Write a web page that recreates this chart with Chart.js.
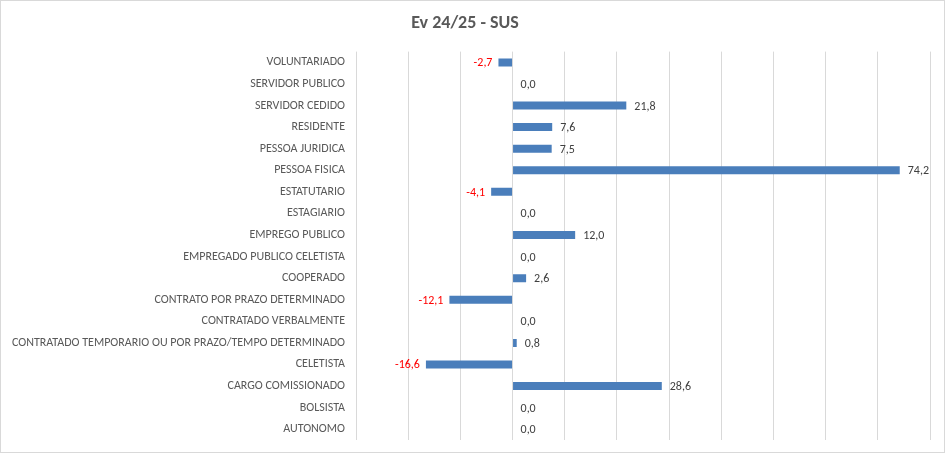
<!DOCTYPE html>
<html>
<head>
<meta charset="utf-8">
<script src="https://cdn.jsdelivr.net/npm/chart.js@4"></script>
<style>
  html, body { margin: 0; padding: 0; background: #fff; }
  #wrap { position: relative; width: 946px; height: 455px; }
</style>
</head>
<body>
<div id="wrap"><canvas id="myChart"></canvas></div>
<script>
const categories = [
  'VOLUNTARIADO', 'SERVIDOR PUBLICO', 'SERVIDOR CEDIDO', 'RESIDENTE',
  'PESSOA JURIDICA', 'PESSOA FISICA', 'ESTATUTARIO', 'ESTAGIARIO',
  'EMPREGO PUBLICO', 'EMPREGADO PUBLICO CELETISTA', 'COOPERADO',
  'CONTRATO POR PRAZO DETERMINADO', 'CONTRATADO VERBALMENTE',
  'CONTRATADO TEMPORARIO OU POR PRAZO/TEMPO DETERMINADO', 'CELETISTA',
  'CARGO COMISSIONADO', 'BOLSISTA', 'AUTONOMO'
];
const values = [
  -2.7, 0.0, 21.8, 7.6,
  7.5, 74.2, -4.1, 0.0,
  12.0, 0.0, 2.6,
  -12.1, 0.0,
  0.8, -16.6,
  28.6, 0.0, 0.0
];
const xMin = -30;
const xMax = 80;
const xStep = 10;

const fontFamily = 'Carlito, Calibri, "Liberation Sans Narrow", "DejaVu Sans Condensed", "Open Sans", sans-serif';

// value labels next to each bar, red for negatives
const barLabels = {
  id: 'barLabels',
  afterDatasetsDraw(chart) {
    const ctx = chart.ctx;
    const meta = chart.getDatasetMeta(0);
    const zeroX = chart.scales.x.getPixelForValue(0);
    ctx.save();
    ctx.font = '12px ' + fontFamily;
    ctx.textBaseline = 'middle';
    meta.data.forEach((bar, i) => {
      const v = values[i];
      const txt = v.toFixed(1).replace('.', ',');
      if (v < 0) {
        ctx.fillStyle = '#ff0000';
        ctx.textAlign = 'right';
        ctx.fillText(txt, bar.x - 6, bar.y + 1);
      } else {
        ctx.fillStyle = '#404040';
        ctx.textAlign = 'left';
        ctx.fillText(txt, Math.max(bar.x, zeroX) + 8, bar.y + 1);
      }
    });
    ctx.restore();
  }
};

const frame = {
  id: 'frame',
  afterDraw(chart) {
    const ctx = chart.ctx;
    ctx.save();
    ctx.strokeStyle = '#d9d9d9';
    ctx.lineWidth = 1;
    ctx.strokeRect(0.5, 0.5, chart.width - 2, chart.height - 3);
    ctx.restore();
  }
};

new Chart(document.getElementById('myChart'), {
  type: 'bar',
  data: {
    labels: categories,
    datasets: [{
      data: values,
      backgroundColor: '#4a7ebb',
      borderWidth: 0,
      inflateAmount: 0,
      barThickness: 8
    }]
  },
  plugins: [barLabels, frame],
  options: {
    indexAxis: 'y',
    responsive: true,
    maintainAspectRatio: false,
    animation: false,
    layout: { padding: { top: 0, right: 16, bottom: 15, left: 0 } },
    plugins: {
      legend: { display: false },
      tooltip: { enabled: false },
      title: {
        display: true,
        text: 'Ev 24/25 - SUS',
        color: '#595959',
        font: { family: fontFamily, size: 18, weight: 'bold' },
        padding: { top: 13, bottom: 17 }
      }
    },
    scales: {
      x: {
        min: xMin,
        max: xMax,
        ticks: { display: false, stepSize: xStep },
        grid: { color: '#d9d9d9', drawTicks: false },
        border: { display: false },
        afterFit(scale) { scale.height = 0; }
      },
      y: {
        ticks: {
          color: '#595959',
          font: { family: fontFamily, size: 12 },
          padding: 11,
          autoSkip: false
        },
        grid: { display: false, drawTicks: false },
        border: { display: false },
        afterFit(scale) {
          scale.width = 356;
          scale.paddingTop = 0;
          scale.paddingBottom = 0;
        }
      }
    }
  }
});
</script>
</body>
</html>
